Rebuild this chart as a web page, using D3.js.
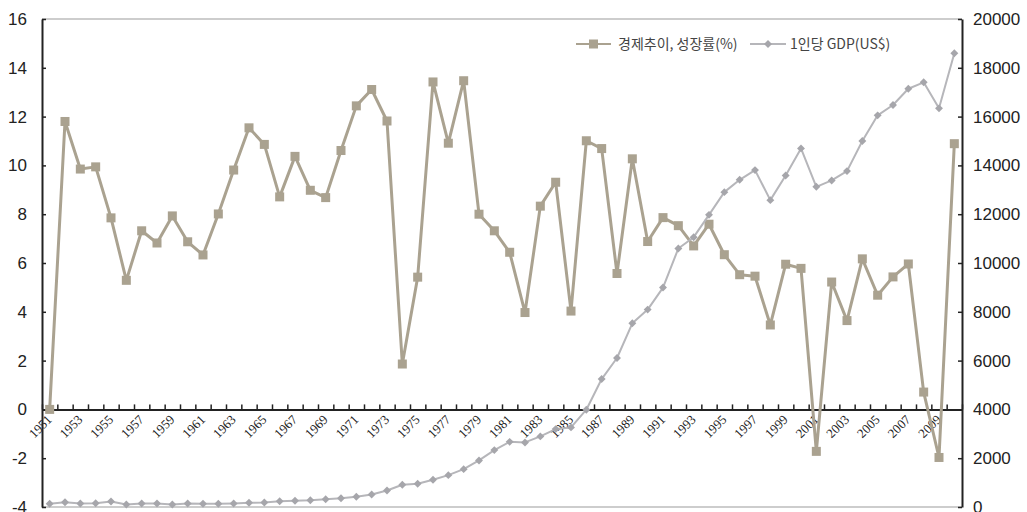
<!DOCTYPE html>
<html>
<head>
<meta charset="utf-8">
<script src="https://cdn.jsdelivr.net/npm/d3@7"></script>
<style>
  body { margin: 0; background: #fff; }
  svg { display: block; }
</style>
</head>
<body>
<svg id="chart" width="1027" height="512"></svg>
<script>
const years = d3.range(1951, 2011);

// 경제추이, 성장률(%)
const growth = [
  0.0, 11.8, 9.85, 9.94, 7.85, 5.29, 7.32, 6.82, 7.93, 6.87,
  6.33, 8.01, 9.81, 11.54, 10.86, 8.71, 10.37, 8.98, 8.68, 10.61,
  12.44, 13.11, 11.82, 1.86, 5.42, 13.42, 10.91, 13.47, 8.0, 7.32,
  6.44, 3.97, 8.33, 9.31, 4.03, 11.01, 10.69, 5.57, 10.27, 6.88,
  7.86, 7.53, 6.7, 7.59, 6.34, 5.52, 5.46, 3.46, 5.95, 5.78,
  -1.72, 5.22, 3.64, 6.17, 4.68, 5.43, 5.96, 0.71, -1.97, 10.89
];

// 1인당 GDP(US$)
const gdp = [
  130, 198, 144, 157, 226, 103, 144, 144, 103, 144,
  130, 130, 144, 171, 185, 238, 254, 279, 320, 361,
  418, 513, 677, 910, 951, 1116, 1305, 1551, 1908, 2331,
  2670, 2646, 2893, 3192, 3262, 3988, 5244, 6106, 7529, 8090,
  8993, 10594, 11058, 11973, 12904, 13410, 13807, 12576, 13589, 14697,
  13122, 13384, 13766, 14997, 16051, 16474, 17143, 17405, 16338, 18595
];

const leftTicks = [-4, -2, 0, 2, 4, 6, 8, 10, 12, 14, 16];
const rightTicks = [0, 2000, 4000, 6000, 8000, 10000, 12000, 14000, 16000, 18000, 20000];
const yearLabels = years.filter((d, i) => i % 2 === 0);

const seriesNames = ['경제추이, 성장률(%)', '1인당 GDP(US$)'];

const margin = { top: 19, right: 65, bottom: 5, left: 42 },
  width = 1027,
  height = 512;

const svg = d3.select('#chart');
const growthColor = '#aaa290';
const gdpLine = '#b6b6ba';
const gdpMark = '#a6a6ab';
const numFont = "'Liberation Sans', Arial, sans-serif";
const plain = d => String(d); // keep hyphen-minus and no thousands separator

const x = d3
  .scaleBand()
  .domain(years)
  .range([margin.left, width - margin.right]);

const xEdge = d3
  .scaleLinear()
  .domain([1950.5, 2010.5])
  .range([margin.left, width - margin.right]);

const yL = d3
  .scaleLinear()
  .domain([-4, 16])
  .range([height - margin.bottom, margin.top]);

const yR = d3
  .scaleLinear()
  .domain([0, 20000])
  .range([height - margin.bottom, margin.top]);

const cx = d => x(d) + x.bandwidth() / 2;

// plot frame (top / bottom light gray)
svg
  .append('line')
  .attr('x1', margin.left).attr('x2', width - margin.right)
  .attr('y1', margin.top).attr('y2', margin.top)
  .attr('stroke', '#bdbdbd').attr('stroke-width', 1.5);
svg
  .append('line')
  .attr('x1', margin.left).attr('x2', width - margin.right)
  .attr('y1', height - margin.bottom).attr('y2', height - margin.bottom)
  .attr('stroke', '#bdbdbd').attr('stroke-width', 1.5);

// left axis
svg
  .append('g')
  .attr('transform', `translate(${margin.left},0)`)
  .call(d3.axisLeft(yL).tickValues(leftTicks).tickFormat(plain).tickSize(-4).tickPadding(15).tickSizeOuter(0))
  .call(g => g.select('.domain').attr('stroke', '#222').attr('stroke-width', 2))
  .call(g => g.selectAll('.tick line').attr('stroke', '#222').attr('stroke-width', 1.5))
  .call(g =>
    g.selectAll('.tick text')
      .attr('font-family', numFont)
      .attr('font-size', 17)
      .attr('fill', '#222')
  );

// right axis
svg
  .append('g')
  .attr('transform', `translate(${width - margin.right},0)`)
  .call(d3.axisRight(yR).tickValues(rightTicks).tickFormat(plain).tickSize(-4).tickPadding(11).tickSizeOuter(0))
  .call(g => g.select('.domain').attr('stroke', '#222').attr('stroke-width', 2))
  .call(g => g.selectAll('.tick line').attr('stroke', '#222').attr('stroke-width', 1.5))
  .call(g =>
    g.selectAll('.tick text')
      .attr('font-family', numFont)
      .attr('font-size', 17)
      .attr('fill', '#222')
  );

// category axis at y = 0
const xg = svg
  .append('g')
  .attr('transform', `translate(0,${yL(0)})`)
  .call(
    d3.axisTop(xEdge)
      .tickValues(d3.range(1950.5, 2011, 1))
      .tickSize(5)
      .tickSizeOuter(0)
      .tickFormat('')
  )
  .call(g => g.select('.domain').attr('stroke', '#222').attr('stroke-width', 2))
  .call(g => g.selectAll('.tick line').attr('stroke', '#222').attr('stroke-width', 1.5));

xg
  .selectAll('text.yr')
  .data(yearLabels)
  .join('text')
  .attr('class', 'yr')
  .attr('transform', d => `translate(${cx(d) + 3},11) rotate(-45)`)
  .attr('text-anchor', 'end')
  .attr('font-family', "'Liberation Serif', 'Times New Roman', serif")
  .attr('font-size', 13)
  .attr('fill', '#222')
  .text(d => d);

// growth series
const growthLine = d3
  .line()
  .x((d, i) => cx(years[i]))
  .y(d => yL(d));

svg
  .append('path')
  .datum(growth)
  .attr('fill', 'none')
  .attr('stroke', growthColor)
  .attr('stroke-width', 3)
  .attr('stroke-linejoin', 'round')
  .attr('d', growthLine);

svg
  .append('g')
  .selectAll('rect')
  .data(growth)
  .join('rect')
  .attr('x', (d, i) => cx(years[i]) - 4.5)
  .attr('y', d => yL(d) - 4.5)
  .attr('width', 9)
  .attr('height', 9)
  .attr('fill', growthColor);

// GDP series
const gdpPath = d3
  .line()
  .x((d, i) => cx(years[i]))
  .y(d => yR(d));

svg
  .append('path')
  .datum(gdp)
  .attr('fill', 'none')
  .attr('stroke', gdpLine)
  .attr('stroke-width', 2)
  .attr('stroke-linejoin', 'round')
  .attr('d', gdpPath);

const diamond = d3.symbol().type(d3.symbolDiamond2).size(40);

svg
  .append('g')
  .selectAll('path')
  .data(gdp)
  .join('path')
  .attr('transform', (d, i) => `translate(${cx(years[i])},${yR(d)})`)
  .attr('d', diamond)
  .attr('fill', gdpMark);

// legend
const legend = svg.append('g').attr('transform', 'translate(576,44)');
const lg1 = legend.append('g');
lg1.append('line').attr('x1', 0).attr('x2', 35).attr('stroke', growthColor).attr('stroke-width', 2);
lg1.append('rect').attr('x', 13).attr('y', -4.5).attr('width', 9).attr('height', 9).attr('fill', growthColor);
lg1.append('text')
  .attr('x', 42).attr('dy', '0.35em')
  .attr('font-family', "'Noto Sans CJK KR', 'Noto Sans', sans-serif")
  .attr('font-size', 14).attr('fill', '#444')
  .text(seriesNames[0]);

const lg2 = legend.append('g').attr('transform', 'translate(174,0)');
lg2.append('line').attr('x1', 0).attr('x2', 36).attr('stroke', gdpLine).attr('stroke-width', 2);
lg2.append('path').attr('transform', 'translate(18,0)').attr('d', diamond).attr('fill', gdpMark);
lg2.append('text')
  .attr('x', 40).attr('dy', '0.35em')
  .attr('font-family', "'Noto Sans CJK KR', 'Noto Sans', sans-serif")
  .attr('font-size', 14).attr('fill', '#444')
  .text(seriesNames[1]);
</script>
</body>
</html>
